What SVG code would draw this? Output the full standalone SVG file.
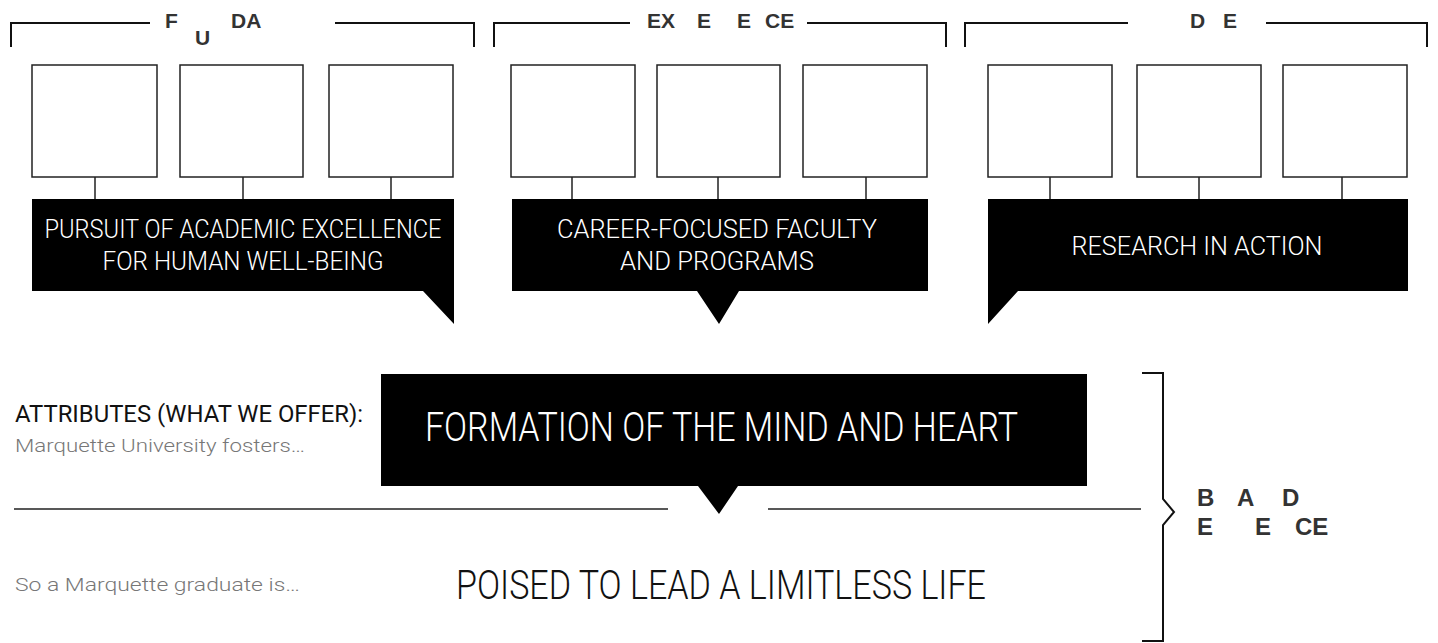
<svg xmlns="http://www.w3.org/2000/svg" width="1438" height="643" viewBox="0 0 1438 643">
<style>
.box{fill:#fff;stroke:#222;stroke-width:1.5}
.ln{fill:none;stroke:#111;stroke-width:2}
.thin{fill:none;stroke:#222;stroke-width:1.5}
.hd{font-family:"Liberation Sans",Arial,sans-serif;font-weight:bold;font-size:21px;fill:#333}
.bd{font-family:"Liberation Sans",Arial,sans-serif;font-weight:bold;font-size:24px;fill:#333}
.call{fill:#000}
.ct{font-family:Roboto,"Liberation Sans",sans-serif;font-weight:300;font-size:25px;fill:#fff;text-anchor:middle}
.big{font-family:Roboto,"Liberation Sans",sans-serif;font-weight:300;font-size:40px}
.lab{font-family:Roboto,"Liberation Sans",sans-serif;font-weight:400;font-size:24px;fill:#111}
.sub{font-family:Roboto,"Liberation Sans",sans-serif;font-weight:300;font-size:18px;fill:#777}
</style>
<rect width="1438" height="643" fill="#fff"/>
<g id="connectors">
<path class="ln" d="M11,47 V23 H150 M335,23 H474 V47"/>
<path class="ln" d="M494,47 V23 H630 M807,23 H946 V47"/>
<path class="ln" d="M965,47 V23 H1128 M1266,23 H1427 V47"/>
<path class="thin" d="M95,177 V199 M243,177 V199 M391,177 V199"/>
<path class="thin" d="M572,177 V199 M718,177 V199 M866,177 V199"/>
<path class="thin" d="M1050,177 V199 M1199,177 V199 M1342,177 V199"/>
<path class="thin" d="M14,509 H668 M768,509 H1141"/>
<path class="ln" d="M1142,373 H1163 V499 L1174,512 L1163,525 V641 H1142"/>
</g>
<g id="header-fundamentals">
<text class="hd" x="165" y="28">F</text><text class="hd" x="195" y="45">U</text><text class="hd" x="231" y="28">DA</text>
</g>
<g id="header-experience">
<text class="hd" x="647" y="28">EX</text><text class="hd" x="697" y="28">E</text><text class="hd" x="737" y="28">E</text><text class="hd" x="765" y="28">CE</text>
</g>
<g id="header-de">
<text class="hd" x="1190" y="28">D</text><text class="hd" x="1223" y="28">E</text>
</g>
<g id="box-1-1"><rect class="box" x="32" y="65" width="125" height="112"/></g>
<g id="box-1-2"><rect class="box" x="180" y="65" width="123" height="112"/></g>
<g id="box-1-3"><rect class="box" x="329" y="65" width="124" height="112"/></g>
<g id="box-2-1"><rect class="box" x="511" y="65" width="124" height="112"/></g>
<g id="box-2-2"><rect class="box" x="657" y="65" width="123" height="112"/></g>
<g id="box-2-3"><rect class="box" x="803" y="65" width="124" height="112"/></g>
<g id="box-3-1"><rect class="box" x="988" y="65" width="124" height="112"/></g>
<g id="box-3-2"><rect class="box" x="1137" y="65" width="124" height="112"/></g>
<g id="box-3-3"><rect class="box" x="1283" y="65" width="124" height="112"/></g>
<g id="callout-1">
<path class="call" d="M32,199 H454 V324 L423,291 H32 Z"/>
<text class="ct" x="243" y="238" textLength="397" lengthAdjust="spacingAndGlyphs">PURSUIT OF ACADEMIC EXCELLENCE</text>
<text class="ct" x="243" y="270" textLength="281" lengthAdjust="spacingAndGlyphs">FOR HUMAN WELL-BEING</text>
</g>
<g id="callout-2">
<path class="call" d="M512,199 H928 V291 H739 L719,324 L697,291 H512 Z"/>
<text class="ct" x="717" y="238" textLength="320" lengthAdjust="spacingAndGlyphs">CAREER-FOCUSED FACULTY</text>
<text class="ct" x="717" y="270" textLength="194" lengthAdjust="spacingAndGlyphs">AND PROGRAMS</text>
</g>
<g id="callout-3">
<path class="call" d="M988,199 H1408 V291 H1018 L988,324 Z"/>
<text class="ct" x="1197" y="255" textLength="251" lengthAdjust="spacingAndGlyphs">RESEARCH IN ACTION</text>
</g>
<g id="attributes-label">
<text class="lab" x="15" y="422" textLength="348" lengthAdjust="spacingAndGlyphs">ATTRIBUTES (WHAT WE OFFER):</text>
<text class="sub" x="15" y="452" textLength="290" lengthAdjust="spacingAndGlyphs">Marquette University fosters…</text>
</g>
<g id="formation">
<path class="call" d="M381,374 H1087 V486 H738 L719,514 L698,486 H381 Z"/>
<text class="big" x="425" y="441" fill="#fff" textLength="593" lengthAdjust="spacingAndGlyphs">FORMATION OF THE MIND AND HEART</text>
</g>
<g id="graduate-label">
<text class="sub" x="15" y="591" textLength="285" lengthAdjust="spacingAndGlyphs">So a Marquette graduate is…</text>
</g>
<g id="poised">
<text class="big" x="456" y="599" fill="#111" font-size="36" textLength="530" lengthAdjust="spacingAndGlyphs">POISED TO LEAD A LIMITLESS LIFE</text>
</g>
<g id="brand-label">
<text class="bd" x="1197" y="506">B</text><text class="bd" x="1237" y="506">A</text><text class="bd" x="1282" y="506">D</text>
<text class="bd" x="1197" y="535">E</text><text class="bd" x="1255" y="535">E</text><text class="bd" x="1295" y="535">CE</text>
</g>
</svg>
